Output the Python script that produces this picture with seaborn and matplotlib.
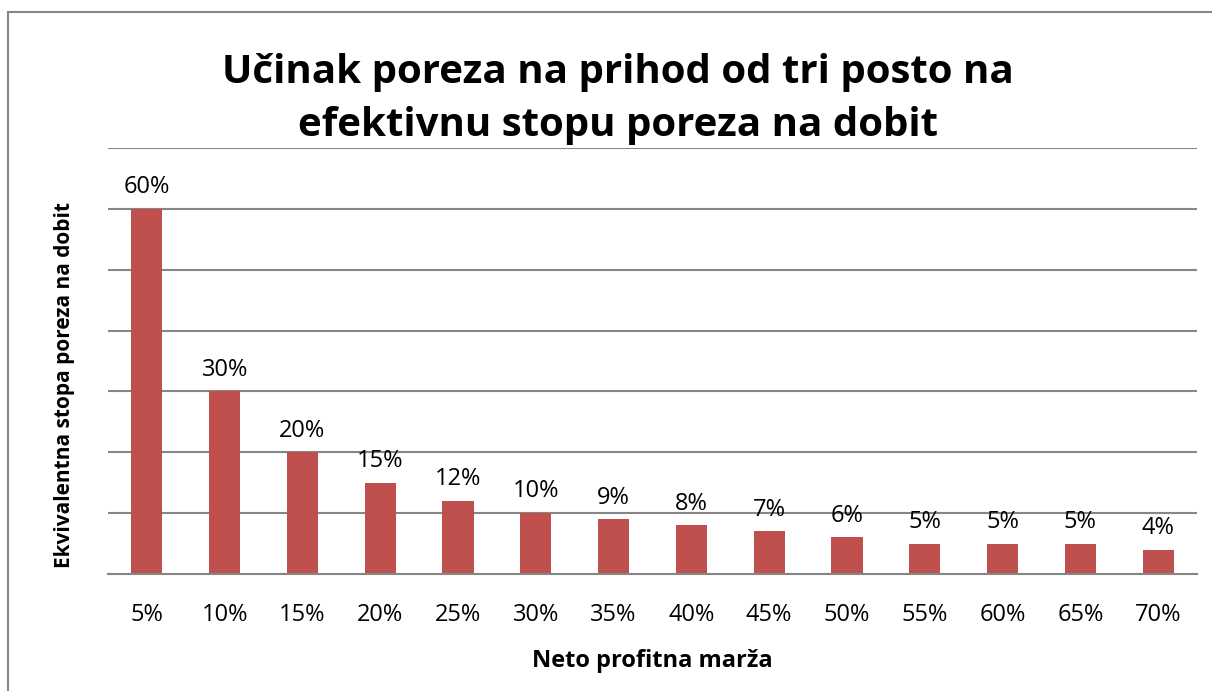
import numpy as np
import pandas as pd
import matplotlib
matplotlib.use('Agg')
import matplotlib.pyplot as plt
import seaborn as sns
from matplotlib.patches import Rectangle

sns.set_style('white')
plt.rcParams['font.family'] = ['Open Sans', 'DejaVu Sans']
plt.rcParams['text.color'] = 'black'
plt.rcParams['xtick.color'] = 'black'

# data
margins = ['5%', '10%', '15%', '20%', '25%', '30%', '35%',
           '40%', '45%', '50%', '55%', '60%', '65%', '70%']
rates = [0.60, 0.30, 0.20, 0.15, 0.12, 0.10, 0.09,
         0.08, 0.07, 0.06, 0.05, 0.05, 0.05, 0.04]
rate_labels = ['60%', '30%', '20%', '15%', '12%', '10%', '9%',
               '8%', '7%', '6%', '5%', '5%', '5%', '4%']

df = pd.DataFrame({'marza': margins, 'stopa': rates})

W, H = 1212, 691
fig = plt.figure(figsize=(W / 100, H / 100), dpi=100)

# chart area border (only left/top visible in the crop)
fig.patches.append(Rectangle((8 / W, -0.1), 1.2, 1 - 12 / H + 0.1,
                             transform=fig.transFigure, fill=False,
                             edgecolor='#868686', linewidth=1.5))

ax = fig.add_axes([108 / W, 1 - 574 / H, (1197 - 108) / W, (574 - 148) / H])
sns.barplot(data=df, x='marza', y='stopa', color='#C0504D', width=0.4,
            saturation=1, linewidth=0, ax=ax)

ax.set_ylim(0, 0.7)
ax.set_xlim(-0.5, len(margins) - 0.5)
ax.set_yticks(np.arange(0.1, 0.71, 0.1))
ax.set_yticklabels([])
ax.tick_params(axis='y', length=0)
ax.yaxis.grid(True, color='#868686', linewidth=1.5)
ax.set_axisbelow(True)

for s in ['left', 'right', 'top']:
    ax.spines[s].set_visible(False)
ax.spines['bottom'].set_color('#868686')
ax.spines['bottom'].set_linewidth(1.5)

ax.set_xticks(np.arange(-0.5, len(margins), 1.0), minor=True)
ax.tick_params(axis='x', which='minor', length=8, width=1.5, color='#868686')
ax.tick_params(axis='x', which='major', length=0, pad=21, labelsize=17,
               labelcolor='black')

for i, (v, lab) in enumerate(zip(rates, rate_labels)):
    ax.annotate(lab, (i, v), xytext=(0, 7), textcoords='offset points',
                ha='center', va='bottom', fontsize=17, color='black')

ax.set_xlabel('Neto profitna marža', fontsize=17, fontweight='bold',
              labelpad=16, color='black')
ax.set_ylabel('')
fig.text(65 / W, 1 - 385 / H, 'Ekvivalentna stopa poreza na dobit', rotation=90,
         ha='center', va='center', fontsize=15, fontweight='bold', color='black')

fig.text(618 / W, 1 - 99 / H,
         'Učinak poreza na prihod od tri posto na\nefektivnu stopu poreza na dobit',
         ha='center', va='center', fontsize=29, fontweight='bold',
         linespacing=1.45, color='black')

fig.savefig('out.png', dpi=100)
